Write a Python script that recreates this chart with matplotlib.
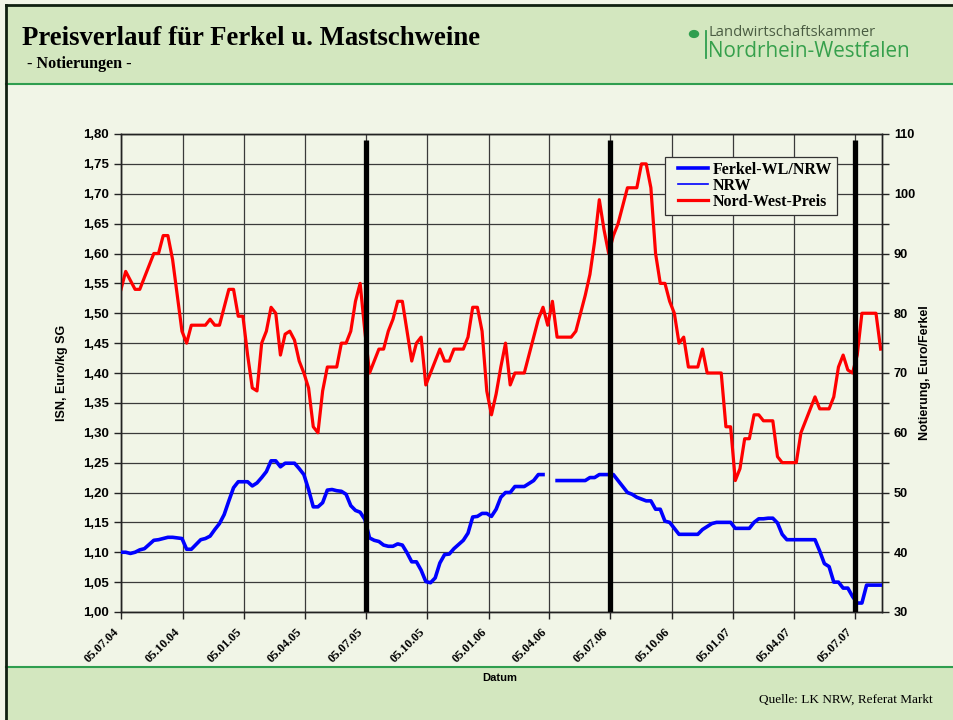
import matplotlib
matplotlib.use('Agg')
import matplotlib.pyplot as plt
import matplotlib.dates as mdates
import matplotlib.transforms as mtransforms
import numpy as np
from matplotlib.patches import Rectangle, Circle
from matplotlib.lines import Line2D
from matplotlib.legend_handler import HandlerLine2D
from matplotlib.ticker import MultipleLocator, FuncFormatter

# weekly quotations starting Monday 05.07.2004
start = np.datetime64('2004-07-05')
n_weeks = 163

# Nord-West-Preis, Euro/kg SG (left axis)
nw_preis = [
    1.54, 1.57, 1.555, 1.54, 1.54, 1.56, 1.58, 1.60, 1.60, 1.63, 1.63, 1.59, 1.53,
    1.47, 1.45, 1.48, 1.48, 1.48, 1.48, 1.49, 1.48, 1.48, 1.51, 1.54, 1.54, 1.495,
    1.495, 1.43, 1.375, 1.37, 1.45, 1.47, 1.51, 1.50, 1.43, 1.465, 1.47, 1.455, 1.42,
    1.40, 1.375, 1.31, 1.30, 1.37, 1.41, 1.41, 1.41, 1.45, 1.45, 1.47, 1.52, 1.55,
    1.47, 1.40, 1.42, 1.44, 1.44, 1.47, 1.49, 1.52, 1.52, 1.47, 1.42, 1.45, 1.46,
    1.38, 1.40, 1.42, 1.44, 1.42, 1.42, 1.44, 1.44, 1.44, 1.46, 1.51, 1.51, 1.47,
    1.37, 1.33, 1.365, 1.41, 1.45, 1.38, 1.40, 1.40, 1.40, 1.43, 1.46, 1.49, 1.51,
    1.48, 1.52, 1.46, 1.46, 1.46, 1.46, 1.47, 1.50, 1.53, 1.565, 1.62, 1.69, 1.64,
    1.60, 1.63, 1.65, 1.68, 1.71, 1.71, 1.71, 1.75, 1.75, 1.71, 1.60, 1.55, 1.55,
    1.52, 1.50, 1.45, 1.46, 1.41, 1.41, 1.41, 1.44, 1.40, 1.40, 1.40, 1.40, 1.31,
    1.31, 1.22, 1.24, 1.29, 1.29, 1.33, 1.33, 1.32, 1.32, 1.32, 1.26, 1.25, 1.25,
    1.25, 1.25, 1.30, 1.32, 1.34, 1.36, 1.34, 1.34, 1.34, 1.36, 1.41, 1.43, 1.405,
    1.40, 1.43, 1.50, 1.50, 1.50, 1.50, 1.44,
]

# Ferkel-WL/NRW, Euro/Ferkel (right axis), gap = no quotation
ferkel = [
    40.0, 40.0, 39.8, 40.0, 40.4, 40.6, 41.3, 42.0, 42.1, 42.3, 42.5, 42.5, 42.4,
    42.3, 40.5, 40.5, 41.3, 42.1, 42.3, 42.7, 43.8, 44.8, 46.3, 48.6, 50.8, 51.8,
    51.8, 51.8, 51.1, 51.6, 52.5, 53.5, 55.3, 55.3, 54.3, 54.9, 54.9, 54.9, 54.0,
    53.0, 50.5, 47.6, 47.6, 48.3, 50.4, 50.5, 50.3, 50.2, 49.7, 47.8, 47.0, 46.7,
    45.5, 42.4, 42.0, 41.8, 41.2, 41.0, 41.0, 41.4, 41.2, 39.9, 38.4, 38.4, 37.0,
    35.1, 34.9, 35.7, 38.2, 39.6, 39.7, 40.6, 41.3, 42.0, 43.2, 45.9, 46.0, 46.5,
    46.5, 46.0, 47.2, 49.2, 50.0, 50.0, 51.0, 51.0, 51.0, 51.5, 52.0, 53.0, 53.0,
    np.nan, np.nan, 52.0, 52.0, 52.0, 52.0, 52.0, 52.0, 52.0, 52.5, 52.5, 53.0, 53.0,
    53.0, 53.0, 52.0, 51.0, 50.0, 49.7, 49.2, 48.9, 48.6, 48.6, 47.2, 47.2, 45.2,
    45.0, 44.0, 43.0, 43.0, 43.0, 43.0, 43.0, 43.8, 44.3, 44.8, 45.0, 45.0, 45.0,
    45.0, 44.0, 44.0, 44.0, 44.0, 45.0, 45.6, 45.6, 45.7, 45.7, 44.9, 43.0, 42.1,
    42.1, 42.1, 42.1, 42.1, 42.1, 42.1, 40.2, 38.1, 37.6, 35.0, 35.0, 34.0, 34.0,
    32.6, 31.5, 31.5, 34.5, 34.5, 34.5, 34.5,
]

# NRW series: only shown in the legend
nrw_dates = []
nrw = []

tick_dates = ['2004-07-05', '2004-10-05', '2005-01-05', '2005-04-05', '2005-07-05',
              '2005-10-05', '2006-01-05', '2006-04-05', '2006-07-05', '2006-10-05',
              '2007-01-05', '2007-04-05', '2007-07-05']
marker_dates = ['2005-07-05', '2006-07-05', '2007-07-05']

SERIF = 'Liberation Serif'
SANS = 'Liberation Sans'
HEAD = '#d3e7bf'
BODY = '#f1f5e7'
GREEN = '#2f9e4f'

W, H = 954, 720


def fx(x):
    return x / W


def fy(y):
    return 1 - y / H


weeks = start + np.arange(n_weeks) * np.timedelta64(7, 'D')
xw = mdates.date2num(weeks)
xt = mdates.date2num(np.array(tick_dates, dtype='datetime64[D]'))
xm = mdates.date2num(np.array(marker_dates, dtype='datetime64[D]'))

fig = plt.figure(figsize=(9.54, 7.2), dpi=100)
fig.patch.set_facecolor(BODY)

# header / footer bands
fig.add_artist(Rectangle((fx(6), fy(84)), 1, fy(6) - fy(84), transform=fig.transFigure,
                         facecolor=HEAD, edgecolor='none', zorder=0))
fig.add_artist(Rectangle((fx(6), 0), 1, fy(667), transform=fig.transFigure,
                         facecolor=HEAD, edgecolor='none', zorder=0))
fig.add_artist(Line2D([fx(6), 1], [fy(84), fy(84)], transform=fig.transFigure, color=GREEN, lw=1.5))
fig.add_artist(Line2D([fx(6), 1], [fy(667), fy(667)], transform=fig.transFigure, color=GREEN, lw=1.5))
fig.add_artist(Line2D([fx(6), 1], [fy(5), fy(5)], transform=fig.transFigure, color='#102010', lw=2))
fig.add_artist(Line2D([fx(6), fx(6)], [0, fy(5)], transform=fig.transFigure, color='#102010', lw=2))

fig.text(fx(22), fy(45), 'Preisverlauf für Ferkel u. Mastschweine', family=SERIF,
         weight='bold', fontsize=19.3, va='baseline')
fig.text(fx(27), fy(68), '- Notierungen -', family=SERIF, weight='bold', fontsize=11.6,
         va='baseline')

# logo
fig.add_artist(Circle((fx(694), fy(34)), 4.5 / W, transform=fig.transFigure,
                      color='#2f9e4f', zorder=3))
fig.add_artist(Line2D([fx(706), fx(706)], [fy(31), fy(58)], transform=fig.transFigure,
                      color='#2f9e4f', lw=1.3))
fig.text(fx(709), fy(36), 'Landwirtschaftskammer', family='Open Sans', fontsize=10.6,
         color='#4a5c42', va='baseline')
fig.text(fx(708), fy(57), 'Nordrhein-Westfalen', family='Open Sans', fontsize=14.9,
         color='#36a04c', va='baseline')

# plot area
ax = fig.add_axes([fx(121), fy(612), fx(882) - fx(121), fy(134) - fy(612)])
ax.set_facecolor(BODY)
ax2 = ax.twinx()

ax.plot(xw, nw_preis, color='#ff0000', lw=2.3, zorder=3)
ax2.plot(xw, ferkel, color='#0000ff', lw=2.6, zorder=3)
ax2.plot(nrw_dates, nrw, color='#0000ff', lw=1.2)
ax2.vlines(xm, 30, 109, color='black', lw=3.8, zorder=4)

ax.set_xlim(xw[0], mdates.date2num(np.datetime64('2007-08-15')))
ax.set_ylim(1.0, 1.8)
ax2.set_ylim(30, 110)

ax.set_xticks(xt)
ax.xaxis.set_major_formatter(mdates.DateFormatter('%d.%m.%y'))
ax.yaxis.set_major_locator(MultipleLocator(0.05))
ax.yaxis.set_major_formatter(FuncFormatter(lambda v, p: f'{v:.2f}'.replace('.', ',')))
ax2.yaxis.set_major_locator(MultipleLocator(10))
ax2.yaxis.set_minor_locator(MultipleLocator(5))

ax.grid(True, color='#3a3a3a', lw=0.9)
ax.set_axisbelow(True)

for a in (ax, ax2):
    for s in a.spines.values():
        s.set_color('#222222')
        s.set_linewidth(1.0)
ax.tick_params(axis='y', direction='out', length=5, width=1, color='#222222')
ax.tick_params(axis='x', direction='out', length=5, width=1, color='#222222', pad=8)
ax2.tick_params(axis='y', which='both', direction='out', length=5, width=1, color='#222222')

for lab in ax.get_yticklabels():
    lab.set_family(SANS)
    lab.set_weight('bold')
    lab.set_fontsize(9.5)
for lab in ax2.get_yticklabels():
    lab.set_family(SANS)
    lab.set_weight('bold')
    lab.set_fontsize(9.2)
shift = mtransforms.ScaledTranslation(-0.04, 0, fig.dpi_scale_trans)
for lab in ax.get_xticklabels():
    lab.set_family(SERIF)
    lab.set_weight('bold')
    lab.set_fontsize(9)
    lab.set_rotation(45)
    lab.set_ha('right')
    lab.set_va('center')
    lab.set_rotation_mode('anchor')
    lab.set_transform(lab.get_transform() + shift)

fig.text(fx(62), fy(373), 'ISN, Euro/kg SG', family=SANS, weight='bold', fontsize=9,
         rotation=90, ha='center', va='center')
fig.text(fx(925), fy(373), 'Notierung, Euro/Ferkel', family=SANS, weight='bold', fontsize=9,
         rotation=90, ha='center', va='center')
fig.text(fx(500), fy(678), 'Datum', family=SANS, weight='bold', fontsize=8,
         ha='center', va='center')
fig.text(fx(933), fy(703), 'Quelle: LK NRW, Referat Markt', family=SERIF, fontsize=9.5,
         ha='right', va='baseline')

handles = [Line2D([], [], color='#0000ff', lw=2.6),
           Line2D([], [], color='#0000ff', lw=1.2),
           Line2D([], [], color='#ff0000', lw=2.3)]
pad_handler = HandlerLine2D(xpad=0.5)
leg = ax2.legend(handles, ['Ferkel-WL/NRW', 'NRW', 'Nord-West-Preis'],
                 loc='upper left', bbox_to_anchor=(0.715, 0.952),
                 prop={'family': SERIF, 'weight': 'bold', 'size': 11.5},
                 fancybox=False, framealpha=1, facecolor=BODY, edgecolor='#333333',
                 borderpad=0.3, labelspacing=0.0, handlelength=2.4,
                 handletextpad=0.3, borderaxespad=0,
                 handler_map={h: pad_handler for h in handles})
leg.get_frame().set_linewidth(0.9)
leg.set_zorder(10)

fig.savefig('out.png', dpi=100, facecolor=fig.get_facecolor())
